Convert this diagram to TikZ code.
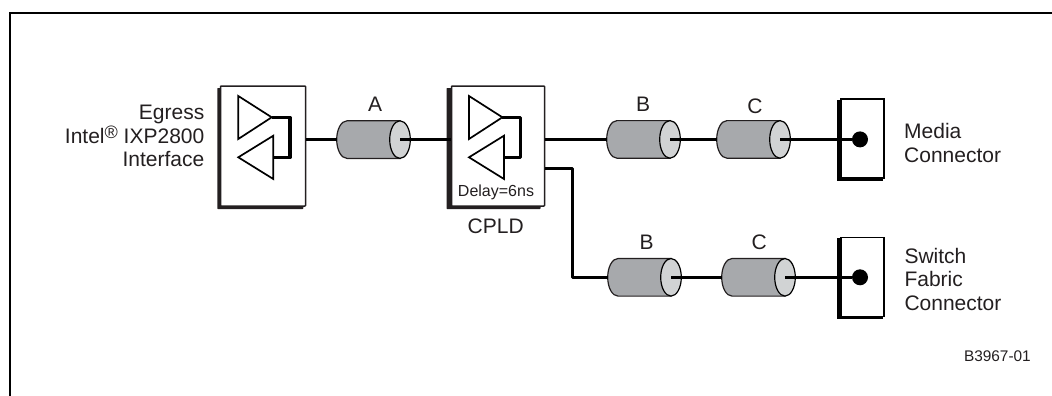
\documentclass[tikz,border=0pt]{standalone}
\usepackage{fontspec}
\setmainfont{Liberation Sans}
\definecolor{ink}{HTML}{231F20}
\definecolor{cylbody}{HTML}{A7A9AC}
\definecolor{cylend}{HTML}{D1D3D4}
\tikzset{
  frameline/.style={line width=2pt,black},
  panel/.style={draw=ink,fill=white,line width=1.5pt,rounded corners=0.6pt,inner sep=0pt,minimum width=#1,minimum height=120pt},
  panelshadow/.style={fill=ink,rounded corners=0.6pt,inner sep=0pt,minimum width=#1,minimum height=121pt},
  jackbox/.style={draw=black,fill=white,line width=1.6pt,inner sep=0pt,minimum width=43pt,minimum height=79pt},
  jackshadow/.style={fill=black,inner sep=0pt,minimum width=46pt,minimum height=81pt},
  dotnode/.style={circle,fill=black,inner sep=0pt,minimum size=16pt},
  amp/.style={draw=black,fill=white,line width=1.7pt,miter limit=10},
  wire/.style={draw=black,line width=3.2pt,line join=round},
  label/.style={text=ink,font=\fontsize{21}{23.5}\selectfont,inner sep=0pt},
  small/.style={text=ink,font=\fontsize{16}{18}\selectfont,inner sep=0pt},
  tiny/.style={text=ink,font=\fontsize{15.4}{18}\selectfont,inner sep=0pt},
}
\newcommand{\cylpart}[3]{%
  \begin{scope}[shift={(#2,-#3)}]
    \coordinate (#1-in) at (0,0);
    \coordinate (#1-out) at (63.3,0);
    \draw[fill=cylbody,draw=ink,line width=1.2pt] (63.3,18.8) -- (10.3,18.8)
      arc[start angle=90,end angle=270,x radius=10.3pt,y radius=18.8pt] -- (63.3,-18.8) -- cycle;
    \draw[fill=cylend,draw=black,line width=1.2pt] (63.3,0) ellipse[x radius=10.3pt,y radius=18.8pt];
  \end{scope}}
\newcommand{\ampset}[3]{%
  \begin{scope}[shift={(#2,0)}]
    \coordinate (#1-t) at (33.4,-117.3);
    \coordinate (#1-b) at (35,-157.5);
    \coordinate (#1-r) at (#3,-117.3);
    \coordinate (#1-s) at (#3,-157.5);
    \draw[wire] (#1-t) -- (#1-r) -- (#1-s) -- (#1-b);
    \draw[amp] (0,-96) -- (33.4,-117.3) -- (0,-139) -- cycle;
    \draw[amp] (35,-135.7) -- (0,-157.3) -- (35,-179) -- cycle;
  \end{scope}}
\begin{document}
\begin{tikzpicture}[x=1pt,y=1pt]
\useasboundingbox (0,-396) rectangle (1052,0);
\draw[frameline] (10,-396) -- (10,-13) -- (1052,-13);
% boxes
\node[panelshadow=86pt] (s1) at (260.3,-148.5) {};
\node[panel=85pt] (box1) at (263,-146) {};
\node[panelshadow=94pt] (s2) at (493.5,-148.5) {};
\node[panel=93pt] (box2) at (498,-146) {};
\ampset{p}{238.3}{51.7}
\ampset{q}{469}{51.7}
% cylinders
\cylpart{a}{336.7}{139.6}
\cylpart{b}{606.7}{139.4}
\cylpart{c}{716.7}{139.4}
\cylpart{d}{607.7}{277.3}
\cylpart{e}{721.7}{277.3}
% connectors
\node[jackshadow] (s3) at (859.7,-140) {};
\node[jackbox] (j1) at (862.7,-138.5) {};
\node[jackshadow] (s4) at (859.7,-278.7) {};
\node[jackbox] (j2) at (862.7,-277) {};
\node[dotnode] (d1) at (860,-139.4) {};
\node[dotnode] (d2) at (860,-277.3) {};
\coordinate (k) at (572.7,-168.7);
\coordinate (k2) at (572.7,-277.3);
\coordinate (q-o) at (box2.east |- 0,-168.7);
\draw[wire] (box1.east |- a-in) -- (a-in);
\draw[wire] (a-out) -- (box2.west |- a-out);
\draw[wire] (box2.east |- b-in) -- (b-in);
\draw[wire] (b-out) -- (c-in);
\draw[wire] (c-out) -- (d1);
\draw[wire] (q-o) -- (k) -- (k2) -- (d-in);
\draw[wire] (d-out) -- (e-in);
\draw[wire] (e-out) -- (d2);
% labels
\node[label,align=right,anchor=east] (t1) at (204.5,-136) {Egress\\Intel{\fontsize{18}{18}\selectfont\raisebox{4.5pt}{®}} IXP2800\\Interface};
\node[label] (la) at (375,-104) {A};
\node[label] (lb1) at (643,-104) {B};
\node[label] (lc1) at (755,-106) {C};
\node[label] (lb2) at (646.7,-242) {B};
\node[label] (lc2) at (759.3,-242) {C};
\node[small] (dl) at (496,-192.7) {Delay=6ns};
\node[label] (cp) at (495.7,-226) {CPLD};
\node[label,align=left,anchor=west] (t2) at (904,-143) {Media\\Connector};
\node[label,align=left,anchor=west] (t3) at (904.3,-279) {Switch\\Fabric\\Connector};
\node[tiny,anchor=east] (id) at (1031,-356) {B3967-01};
\end{tikzpicture}
\end{document}
